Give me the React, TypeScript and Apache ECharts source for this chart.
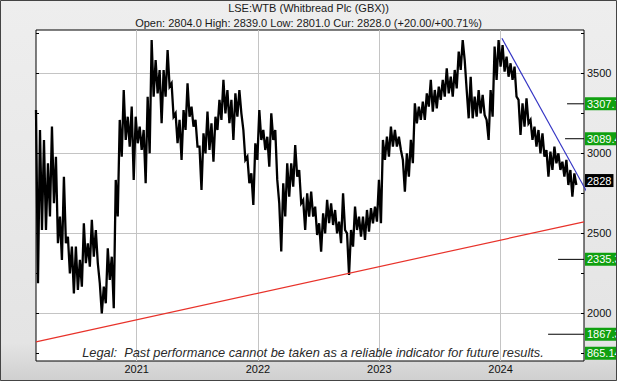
import React, { useEffect, useRef } from 'react';
import * as echarts from 'echarts';

// ---- data ----
const TITLE = 'LSE:WTB (Whitbread Plc (GBX))';
const SUBTITLE = 'Open: 2804.0 High: 2839.0 Low: 2801.0 Cur: 2828.0 (+20.00/+00.71%)';
const LEGAL = 'Legal:  Past performance cannot be taken as a reliable indicator for future results.';

const AXIS_MIN_DATE = '2020-03-04';
const AXIS_MAX_DATE = '2024-09-08';
const SAMPLE_START = '2020-03-04';
const SAMPLE_STEP_DAYS = 12;

const YEAR_TICKS = [2021, 2022, 2023, 2024];
const Y_LABELS = [2000, 2500, 3000, 3500];
const Y_MINOR = [1750, 2000, 2250, 2500, 2750, 3000, 3250, 3500, 3750];
const Y_MIN = 1700;
const Y_MAX = 3769;

const HIGHS = [
  3269, 3144, 3082, 2936, 3165, 2977, 2603, 2852, 2477, 2415, 2415, 2332, 2561, 2436, 2582, 2519,
  2186, 2165, 2405, 2352, 2832, 3207, 3394, 3227, 3290, 3227, 3165, 3144, 3352, 3706, 3581, 3519,
  3519, 3644, 3436, 3248, 3207, 3269, 3436, 3290, 3207, 3040, 3123, 3259, 3186, 3227, 3332, 3457,
  3394, 3332, 3373, 3394, 3144, 2977, 2873, 3061, 3269, 3144, 3102, 3248, 3144, 2686, 2811, 2936,
  2936, 3050, 2894, 2707, 2748, 2759, 2665, 2561, 2623, 2707, 2686, 2644, 2571, 2748, 2498, 2519,
  2665, 2602, 2602, 2644, 2655, 2665, 2832, 3082, 3102, 3165, 3144, 3102, 2957, 2998, 3082, 3311,
  3290, 3321, 3373, 3457, 3394, 3415, 3457, 3529, 3477, 3519, 3634, 3706, 3394, 3477, 3352, 3394,
  3363, 3207, 3394, 3665, 3706, 3675, 3602, 3561, 3540, 3332, 3311, 3342, 3207, 3165, 3144, 3123,
  3019, 3009, 3040, 2998, 2946, 2957, 2894, 2873,
];
const LOWS = [
  2186, 2519, 2519, 2603, 2686, 2436, 2332, 2436, 2248, 2123, 2144, 2165, 2311, 2290, 2352, 2311,
  1998, 2061, 2207, 2030, 2603, 2977, 3082, 3040, 2832, 3061, 3019, 2811, 2998, 3352, 3373, 3186,
  3352, 3415, 3227, 3061, 2957, 3144, 3227, 3165, 3040, 2769, 2998, 3019, 2946, 3144, 3207, 3248,
  3186, 3082, 3227, 3248, 2957, 2811, 2675, 2957, 3082, 3019, 2915, 3082, 2832, 2384, 2603, 2727,
  2790, 2852, 2686, 2519, 2603, 2603, 2488, 2384, 2498, 2561, 2550, 2498, 2436, 2519, 2238, 2415,
  2519, 2477, 2457, 2509, 2561, 2571, 2561, 2957, 2977, 3040, 3040, 3019, 2759, 2852, 2936, 3186,
  3207, 3207, 3290, 3259, 3279, 3332, 3352, 3373, 3352, 3404, 3519, 3581, 3217, 3217, 3227, 3248,
  3238, 3082, 3227, 3457, 3540, 3509, 3477, 3457, 3352, 3113, 3165, 3186, 3082, 3040, 2998, 2977,
  2852, 2894, 2936, 2894, 2852, 2800, 2727, 2800,
];

const SUPPORT_LINE = [
  { date: '2020-03-04', value: 1820 },
  { date: '2024-09-08', value: 2570 },
];
const RESIST_LINE = [
  { date: '2024-01-05', value: 3717 },
  { date: '2024-09-20', value: 2744 },
];
const TARGETS = [
  { from: '2024-07-19', value: 3307.7, label: '3307.7' },
  { from: '2024-07-13', value: 3089.4, label: '3089.4' },
  { from: '2024-06-22', value: 2335.3, label: '2335.3' },
  { from: '2024-05-23', value: 1867.3, label: '1867.3' },
];
const CURRENT = { value: 2828, label: '2828' };
const OFFSCALE = { value: 1748, label: '865.14' };

const DAY = 86400000;
function ts(s: string): number {
  const [y, m, d] = s.split('-').map(Number);
  return Date.UTC(y, m - 1, d);
}

export default function App() {
  const ref = useRef<HTMLDivElement>(null);
  useEffect(() => {
    document.body.style.margin = '0';
    if (!ref.current) return;
    const chart = echarts.init(ref.current, undefined, { renderer: 'svg' });
    const minT = ts(AXIS_MIN_DATE);
    const maxT = ts(AXIS_MAX_DATE);
    const start = ts(SAMPLE_START);
    const zig: [number, number][] = [];
    HIGHS.forEach((h, i) => {
      const t = start + i * SAMPLE_STEP_DAYS * DAY;
      zig.push([t, h]);
      zig.push([t + (SAMPLE_STEP_DAYS / 2) * DAY, LOWS[i]]);
    });
    const yearTs = YEAR_TICKS.map((y) => Date.UTC(y, 0, 1));
    const font = '"Liberation Sans", Arial, sans-serif';

    const labelSeries = (data: [number, number][], text: string, bg: string, lineColor: string, opacity: number) => ({
      type: 'line',
      data,
      symbol: 'none',
      silent: true,
      z: 5,
      lineStyle: { color: lineColor, width: 1, opacity },
      endLabel: {
        show: true,
        formatter: text,
        distance: 1,
        backgroundColor: bg,
        color: '#fff',
        fontFamily: font,
        fontSize: 11,
        padding: [1, 2, 0, 2],
        lineHeight: 12,
      },
    });

    const series: any[] = [
      {
        type: 'line',
        data: zig,
        symbol: 'none',
        silent: true,
        z: 3,
        lineStyle: { color: '#000', width: 2.3, join: 'miter' },
      },
      {
        type: 'line',
        data: SUPPORT_LINE.map((p) => [ts(p.date), p.value]),
        symbol: 'none',
        silent: true,
        z: 4,
        lineStyle: { color: '#e8322a', width: 1.2 },
      },
      {
        type: 'line',
        data: RESIST_LINE.map((p) => [ts(p.date), p.value]),
        symbol: 'none',
        silent: true,
        clip: false,
        z: 4,
        lineStyle: { color: '#3434c4', width: 1.2 },
      },
      ...TARGETS.map((t) => labelSeries([[ts(t.from), t.value], [maxT, t.value]], t.label, '#10a010', '#000', 1)),
      labelSeries([[maxT - 2 * DAY, CURRENT.value], [maxT, CURRENT.value]], CURRENT.label, '#000', '#000', 0),
      labelSeries([[maxT - 2 * DAY, OFFSCALE.value], [maxT, OFFSCALE.value]], OFFSCALE.label, '#10a010', '#000', 0),
    ];

    const yBase = {
      type: 'value',
      min: Y_MIN,
      max: Y_MAX,
      axisLine: { show: false, onZero: false },
    };

    chart.setOption({
      animation: false,
      backgroundColor: {
        type: 'linear', x: 0, y: 0, x2: 0, y2: 1,
        colorStops: [
          { offset: 0, color: '#eeeeee' },
          { offset: 0.9, color: '#e4e4e4' },
          { offset: 1, color: '#cfcfcf' },
        ],
      },
      title: {
        text: TITLE,
        subtext: SUBTITLE,
        left: 'center',
        top: 1,
        padding: 0,
        itemGap: 2,
        textStyle: { fontFamily: font, fontSize: 11, fontWeight: 'normal', color: '#1a1a1a', lineHeight: 13 },
        subtextStyle: { fontFamily: font, fontSize: 11, color: '#1a1a1a', lineHeight: 13 },
      },
      grid: {
        left: 36, top: 30, right: 33, bottom: 20,
        show: true, backgroundColor: '#fff', borderColor: '#000', borderWidth: 1,
      },
      xAxis: {
        type: 'value',
        min: minT,
        max: maxT,
        axisLine: { show: false, onZero: false },
        axisTick: { show: false, customValues: yearTs },
        axisLabel: {
          customValues: yearTs,
          formatter: (v: number) => String(new Date(v).getUTCFullYear()),
          fontFamily: font, fontSize: 11, color: '#111', margin: 2,
        },
        splitLine: { show: true, lineStyle: { color: '#c4c4c4', width: 1 } },
      },
      yAxis: [
        {
          ...yBase,
          position: 'right',
          axisTick: { show: false, customValues: Y_LABELS },
          axisLabel: {
            customValues: Y_LABELS,
            formatter: (v: number) => String(v),
            fontFamily: font, fontSize: 11, color: '#111', margin: 3,
          },
          splitLine: { show: true, lineStyle: { color: '#c4c4c4', width: 1 } },
        },
        {
          ...yBase,
          position: 'left',
          axisTick: { show: true, inside: true, length: 3, customValues: Y_MINOR, lineStyle: { color: '#000' } },
          axisLabel: { show: false },
          splitLine: { show: false },
        },
        {
          ...yBase,
          position: 'right',
          axisTick: { show: true, inside: true, length: 3, customValues: Y_MINOR, lineStyle: { color: '#000' } },
          axisLabel: { show: false },
          splitLine: { show: false },
        },
      ],
      graphic: [
        {
          type: 'text',
          x: 313,
          y: 352,
          z: 10,
          style: {
            text: LEGAL,
            fill: '#2a2a2a',
            font: 'italic 12.8px "Liberation Sans", Arial, sans-serif',
            textAlign: 'center',
            textVerticalAlign: 'middle',
          },
        },
        {
          type: 'rect',
          z: 20,
          silent: true,
          shape: { x: 0.5, y: 0.5, width: 616, height: 380 },
          style: { fill: 'none', stroke: '#444', lineWidth: 1 },
        },
      ],
      series,
    });
    return () => chart.dispose();
  }, []);
  return <div ref={ref} style={{ width: 617, height: 381 }} />;
}
